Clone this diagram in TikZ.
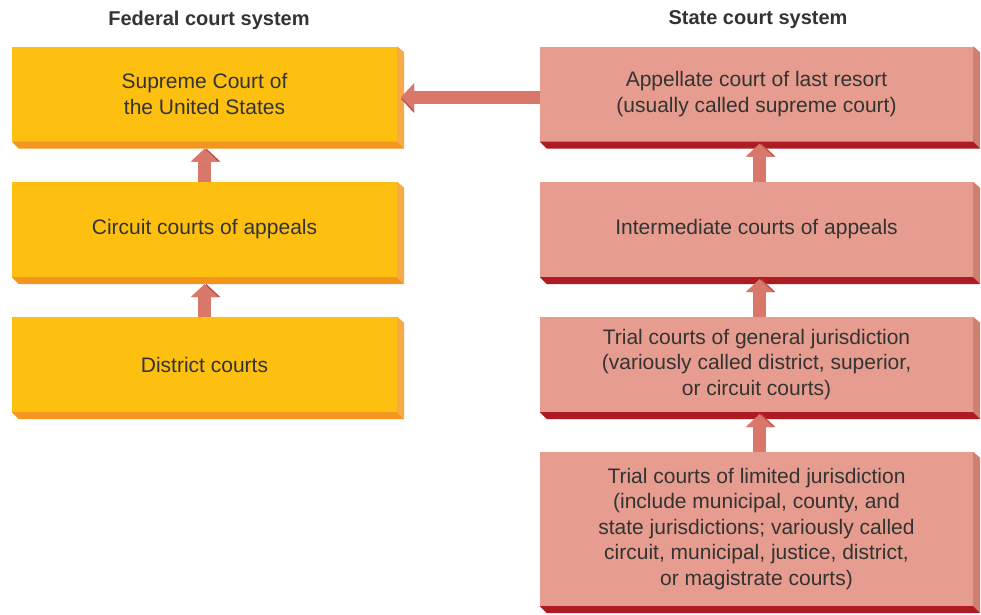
\documentclass[tikz,border=0pt]{standalone}
\usepackage{fontspec}
\setmainfont{Liberation Sans}
\usetikzlibrary{arrows.meta}

\definecolor{fedface}{HTML}{FDC010}
\definecolor{fedside}{HTML}{F9AA48}
\definecolor{fedbottom}{HTML}{F4951E}
\definecolor{stateface}{HTML}{E69C8E}
\definecolor{stateside}{HTML}{D0806F}
\definecolor{statebottom}{HTML}{AF1B23}
\definecolor{arrowface}{HTML}{DA776B}
\definecolor{arrowshade}{HTML}{B4503F}
\definecolor{textgray}{HTML}{333333}

\begin{document}
\begin{tikzpicture}[
  x=1pt, y=-1pt,
  court/.style={minimum height=95pt, inner sep=0pt, align=center, text=textgray, font=\fontsize{21}{25.5}\selectfont},
  fed/.style={court, fill=fedface, minimum width=385pt},
  state/.style={court, fill=stateface, minimum width=433pt},
  title/.style={text=textgray, font=\fontsize{20}{24}\selectfont\bfseries},
  fat/.style={line width=13pt, draw=arrowface, -{Triangle[width=28pt, length=13pt, line width=0pt]}},
  up/.style={fat, preaction={draw=arrowshade, transform canvas={xshift=2pt}}},
  left/.style={fat, preaction={draw=arrowshade, transform canvas={yshift=-2pt}}}
]
\useasboundingbox (0,0) rectangle (981,614);

% Titles
\node (fedtitle)   [title] at (209,20) {Federal court system};
\node (statetitle) [title] at (758,20) {State court system};

% Federal courts
\node (fsup) [fed] at (204.5,94)  {Supreme Court of\\the United States};
\node (fcir) [fed] at (204.5,229.5) {Circuit courts of appeals};
\node (fdis) [fed] at (204.5,364.5) {District courts};

% State courts
\node (ssup) [state] at (756.5,94)  {Appellate court of last resort\\(usually called supreme court)};
\node (sint) [state] at (756.5,229.5) {Intermediate courts of appeals};
\node (sgen) [state] at (756.5,364.5) {Trial courts of general jurisdiction\\(variously called district, superior,\\or circuit courts)};
\node (slim) [state, minimum height=154pt] at (756.5,529) {Trial courts of limited jurisdiction\\(include municipal, county, and\\state jurisdictions; variously called\\circuit, municipal, justice, district,\\or magistrate courts)};

% 3D sides of the boxes
\foreach \b/\s/\d in {fsup/fedside/fedbottom, fcir/fedside/fedbottom, fdis/fedside/fedbottom,
                      ssup/stateside/statebottom, sint/stateside/statebottom,
                      sgen/stateside/statebottom, slim/stateside/statebottom} {
  \fill[\s] (\b.north east) -- ++(7,6) -- ([shift={(7,7)}]\b.south east) -- (\b.south east) -- cycle;
  \fill[\d] (\b.south west) -- ++(7,7) -- ([shift={(7,7)}]\b.south east) -- (\b.south east) -- cycle;
}

% Connections
\draw [up] (fcir.north) -- ([yshift=-7]fsup.south);
\draw [up] (fdis.north) -- ([yshift=-7]fcir.south);
\draw [up] ([xshift=3]ssup.south |- sint.north) -- ([xshift=3,yshift=-2]ssup.south);
\draw [up] ([xshift=3]sint.south |- sgen.north) -- ([xshift=3,yshift=-2]sint.south);
\draw [up] ([xshift=3]sgen.south |- slim.north) -- ([xshift=3,yshift=-2]sgen.south);
\draw [left] ([yshift=-3]ssup.west) -- ([xshift=4,yshift=-3]fsup.east);

\end{tikzpicture}
\end{document}
